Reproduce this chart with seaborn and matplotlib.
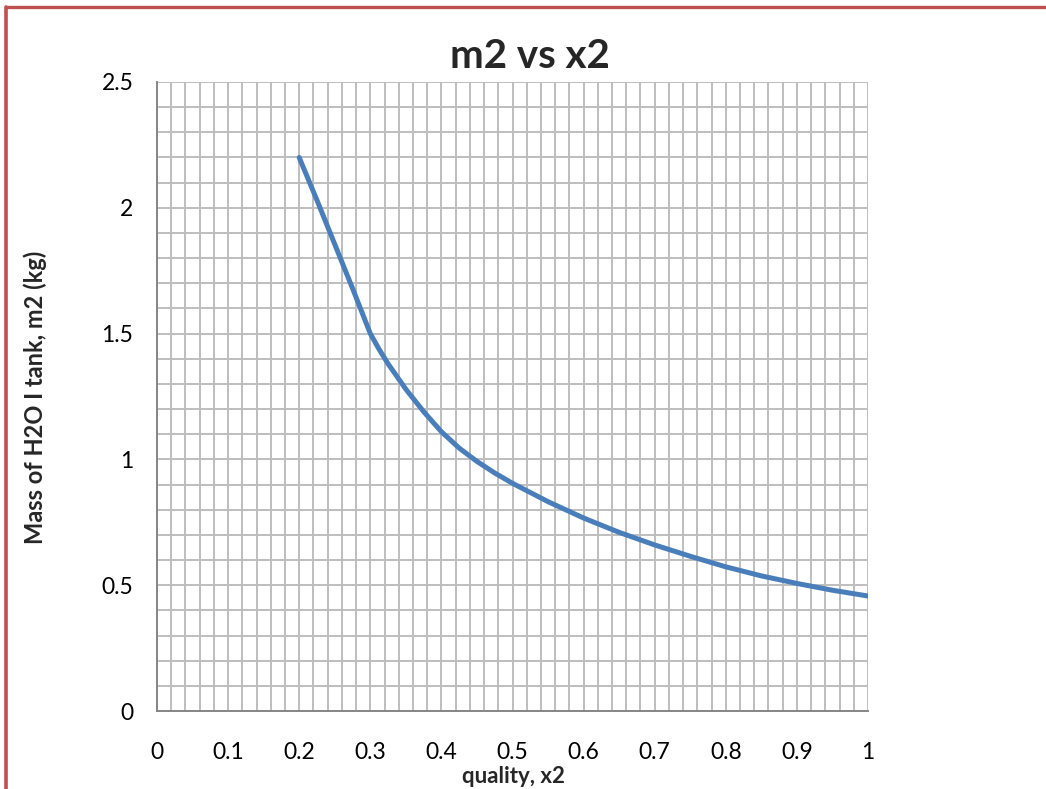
import matplotlib
matplotlib.use("Agg")
import matplotlib.pyplot as plt
import seaborn as sns
import pandas as pd
from matplotlib.ticker import MultipleLocator, FixedLocator, FixedFormatter
from matplotlib.lines import Line2D

# Mass of water in the tank versus quality
quality = [0.2, 0.225, 0.25, 0.275, 0.2875, 0.3, 0.3125, 0.325, 0.35, 0.375,
           0.4, 0.425, 0.45, 0.475, 0.5, 0.55, 0.6, 0.65, 0.7, 0.75, 0.8, 0.85,
           0.9, 0.95, 1.0]
mass_kg = [2.20, 2.03, 1.855, 1.68, 1.59, 1.50, 1.437, 1.38, 1.279, 1.19,
           1.11, 1.045, 0.992, 0.946, 0.905, 0.832, 0.767, 0.71, 0.66, 0.615,
           0.573, 0.537, 0.507, 0.48, 0.457]

x_tick_values = [0, 0.1, 0.2, 0.3, 0.4, 0.5, 0.6, 0.7, 0.8, 0.9, 1.0]
x_tick_labels = ["0", "0.1", "0.2", "0.3", "0.4", "0.5", "0.6", "0.7", "0.8", "0.9", "1"]
y_tick_values = [0, 0.5, 1.0, 1.5, 2.0, 2.5]
y_tick_labels = ["0", "0.5", "1", "1.5", "2", "2.5"]

sns.set_style("white")
plt.rcParams["font.family"] = ["Lato", "DejaVu Sans"]

df = pd.DataFrame({"quality": quality, "mass": mass_kg})

fig = plt.figure(figsize=(10.46, 7.89), dpi=100)
ax = fig.add_axes([157 / 1046, 78 / 789, 711 / 1046, 629 / 789])

sns.lineplot(data=df, x="quality", y="mass", ax=ax, color="#4A7EBB",
             linewidth=3.6, sort=False, solid_capstyle="round",
             solid_joinstyle="round", zorder=3)

ax.set_xlim(0, 1)
ax.set_ylim(0, 2.5)
ax.xaxis.set_major_locator(FixedLocator(x_tick_values))
ax.xaxis.set_major_formatter(FixedFormatter(x_tick_labels))
ax.yaxis.set_major_locator(FixedLocator(y_tick_values))
ax.yaxis.set_major_formatter(FixedFormatter(y_tick_labels))
ax.xaxis.set_minor_locator(MultipleLocator(0.02))
ax.yaxis.set_minor_locator(MultipleLocator(0.1))

ax.grid(which="both", color="#BEBEBE", linewidth=1.4)
ax.set_axisbelow(True)

for side in ("top", "right"):
    ax.spines[side].set_visible(False)
for side in ("left", "bottom"):
    ax.spines[side].set_color("#868686")
    ax.spines[side].set_linewidth(1.4)
    ax.spines[side].set_zorder(2.5)

ax.tick_params(which="major", direction="out", length=5, width=1.4,
               color="#868686", labelsize=16.5, labelcolor="black")
ax.tick_params(axis="x", which="major", pad=17)
ax.tick_params(axis="y", which="major", pad=12)
ax.tick_params(which="minor", length=0)

ax.set_xlabel("")
ax.set_ylabel("")

fig.text(530 / 1046, 1 - 57 / 789, "m2 vs x2", ha="center", va="center",
         fontsize=29, fontweight="bold")
fig.text(513 / 1046, 1 - 783 / 789, "quality, x2", ha="center", va="baseline",
         fontsize=16, fontweight="bold")
fig.text(35 / 1046, 1 - 397 / 789, "Mass of H2O I tank, m2 (kg)", ha="center",
         va="center", rotation=90, fontsize=17, fontweight="bold")

# Chart-area border along the top and left edges
border = "#C0504D"
fig.add_artist(Line2D([5.5 / 1046, 1.0], [1 - 6.5 / 789, 1 - 6.5 / 789],
                      transform=fig.transFigure, color=border, linewidth=2.4))
fig.add_artist(Line2D([5.5 / 1046, 5.5 / 1046], [0.0, 1 - 6.5 / 789],
                      transform=fig.transFigure, color=border, linewidth=2.6))

fig.savefig("out.png", dpi=100)
